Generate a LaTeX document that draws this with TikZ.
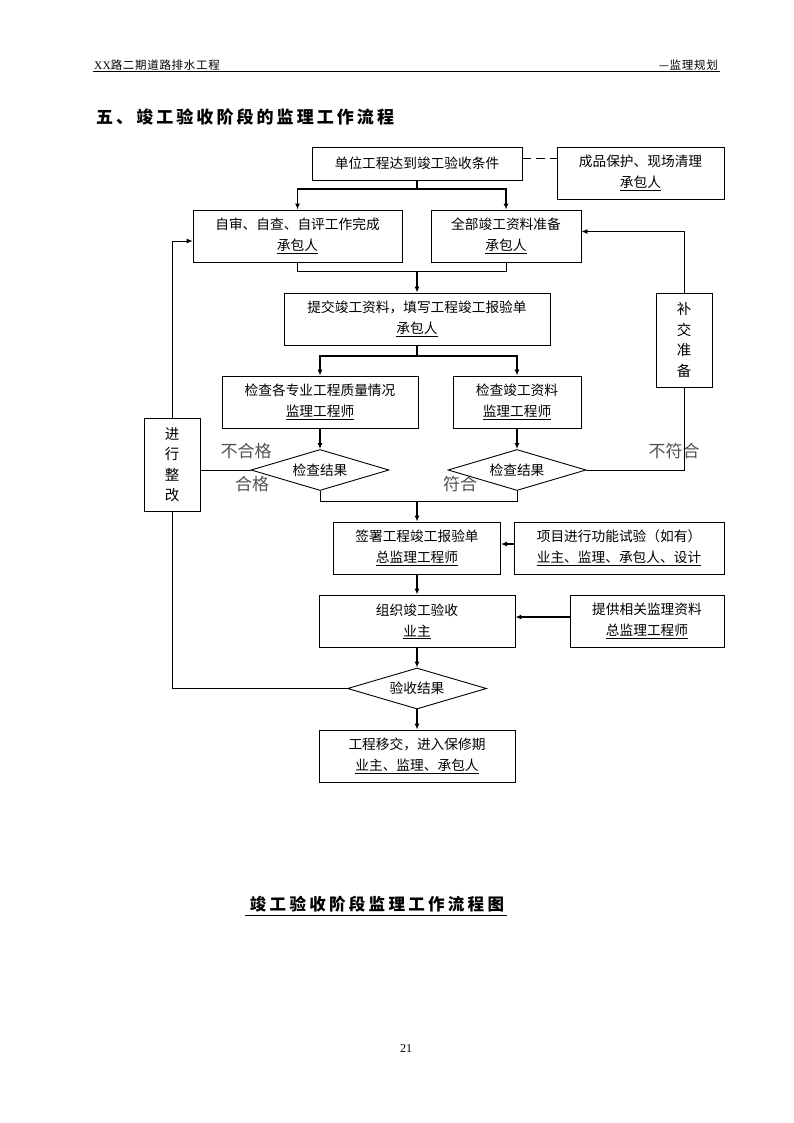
\documentclass[tikz,border=0pt]{standalone}
\usepackage{fontspec}
\setmainfont{Noto Sans CJK SC}
\newfontfamily\latinserif{Liberation Serif}
\usetikzlibrary{arrows.meta,shapes.geometric}
\tikzset{
  box/.style={draw, line width=0.9pt, inner sep=0pt, align=center,
    minimum height=52pt, font=\fontsize{13.7}{21}\selectfont},
  vbox/.style={draw, line width=0.9pt, inner sep=0pt, align=center,
    minimum width=56pt, font=\fontsize{14.5}{20.5}\selectfont},
  dia/.style={draw, diamond, aspect=3.37, inner sep=0pt, line width=0.9pt,
    minimum width=138pt, minimum height=41pt, font=\fontsize{13.7}{16}\selectfont},
  lbl/.style={text=black!68, inner sep=0pt, font=\fontsize{17}{20}\selectfont},
  thk/.style={line width=1.6pt},
  thn/.style={line width=0.9pt},
  arr/.style={-{Latex[length=6pt,width=5pt]}},
}
\begin{document}
\begin{tikzpicture}[x=1pt,y=-1pt]
\fill[white] (0,0) rectangle (794,1123);
\useasboundingbox (0,0) rectangle (794,1123);
% header
\node[anchor=west, inner sep=0pt, font=\fontsize{11.5}{13}\selectfont\addfontfeature{LetterSpace=6}] (hl) at (94,65) {{\latinserif XX}路二期道路排水工程};
\node[anchor=east, inner sep=0pt, font=\fontsize{11.5}{13}\selectfont\addfontfeature{LetterSpace=6}] (hr) at (718,65) {—监理规划};
\coordinate (hl1) at (93,71.5);
\coordinate (hl2) at (720,71.5);
\draw[line width=1.3pt] (hl1) -- (hl2);
% title
\node[anchor=west, inner sep=0pt, font=\fontsize{17}{20}\selectfont\bfseries\addfontfeature{LetterSpace=18}] (title) at (96,117) {五、竣工验收阶段的监理工作流程};

% nodes
\node[box, minimum width=210pt, minimum height=33pt] (A) at (417,163.5) {单位工程达到竣工验收条件};
\node[box, minimum width=167pt] (B) at (640.5,173) {成品保护、现场清理\\\underline{承包人}};
\node[box, minimum width=209pt] (C) at (297.5,236) {自审、自查、自评工作完成\\\underline{承包人}};
\node[box, minimum width=150pt] (D) at (506,236) {全部竣工资料准备\\\underline{承包人}};
\node[box, minimum width=266pt] (E) at (417,319) {提交竣工资料，填写工程竣工报验单\\\underline{承包人}};
\node[box, minimum width=196pt] (F) at (320,402) {检查各专业工程质量情况\\\underline{监理工程师}};
\node[box, minimum width=128pt] (G) at (517,402) {检查竣工资料\\\underline{监理工程师}};
\node[dia] (H1) at (320,470) {检查结果};
\node[dia] (H2) at (517,470) {检查结果};
\node[vbox, minimum height=93pt] (R) at (172,464.5) {进\\行\\整\\改};
\node[vbox, minimum height=94pt] (S) at (684,340) {补\\交\\准\\备};
\node[box, minimum width=167pt] (I) at (417,548) {签署工程竣工报验单\\\underline{总监理工程师}};
\node[box, minimum width=210pt] (J) at (619,548) {项目进行功能试验（如有）\\\underline{业主、监理、承包人、设计}};
\node[box, minimum width=196pt] (K) at (417,621) {组织竣工验收\\\underline{业主}};
\node[box, minimum width=154pt] (L) at (647,621) {提供相关监理资料\\\underline{总监理工程师}};
\node[dia, minimum width=139pt] (M) at (417,688.5) {验收结果};
\node[box, minimum width=196pt] (N) at (417,756) {工程移交，进入保修期\\\underline{业主、监理、承包人}};

% labels
\node[lbl] (l1) at (246,451) {不合格};
\node[lbl] (l2) at (252,484) {合格};
\node[lbl] (l3) at (460,484) {符合};
\node[lbl] (l4) at (674,451) {不符合};

% connectors
\coordinate (dA) at ([yshift=5.5pt]A.east);
\draw[thn, dash pattern=on 9pt off 5pt] (dA) -- (dA -| B.west);

\coordinate (sA) at (417,189);
\draw[thk] (A.south) -- (sA);
\draw[thk, arr] (sA) -| (C.north);
\draw[thk, arr] (sA) -| (D.north);

\coordinate (mCD) at (417,271);
\draw[thn] (C.south) |- (mCD);
\draw[thn] (D.south) |- (mCD);
\draw[thk, arr] (mCD) -- (E.north);

\coordinate (sE) at (417,356);
\draw[thk] (E.south) -- (sE);
\draw[thk, arr] (sE) -| (F.north);
\draw[thk, arr] (sE) -| (G.north);

\draw[thk, arr] (F.south) -- (H1.north);
\draw[thk, arr] (G.south) -- (H2.north);

\coordinate (mH) at (417,501);
\draw[thn] (H1.south) |- (mH);
\draw[thn] (H2.south) |- (mH);
\draw[thk, arr] (mH) -- (I.north);

\draw[thk, arr] ([yshift=4pt]J.west) -- ([yshift=4pt]I.east);
\draw[thk, arr] (I.south) -- (K.north);
\draw[thk, arr] ([yshift=4pt]L.west) -- ([yshift=4pt]K.east);
\draw[thk, arr] (K.south) -- (M.north);
\draw[thk, arr] (M.south) -- (N.north);

% left loop
\draw[thn] (M.west) -| (R.south);
\draw[thn] (H1.west) -- (H1.west -| R.east);
\draw[thn, arr] (R.north) |- ([yshift=-5pt]C.west);
% right loop
\draw[thn] (H2.east) -| (S.south);
\draw[thn, arr] (S.north) |- ([yshift=4.5pt]D.east);

% caption
\node[inner sep=0pt, font=\fontsize{16.5}{20}\selectfont\bfseries\addfontfeature{LetterSpace=20}] (cap) at (377,904) {竣工验收阶段监理工作流程图};
\coordinate (u1) at (245,915.5);
\coordinate (u2) at (507,915.5);
\draw[line width=1.2pt] (u1) -- (u2);
% page number
\node[inner sep=0pt, font=\latinserif\fontsize{12}{14}\selectfont] (pg) at (406,1049) {21};
\end{tikzpicture}
\end{document}
